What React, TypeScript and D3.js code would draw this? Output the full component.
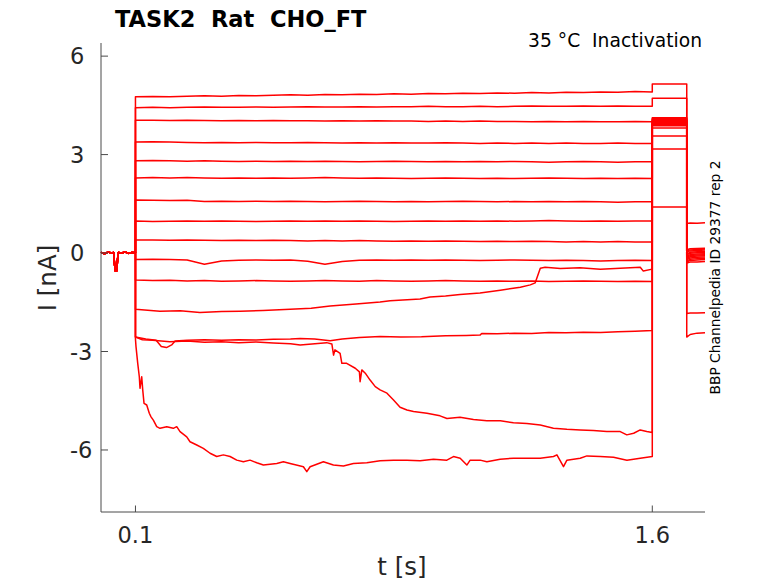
import React from "react";
import * as d3 from "d3";

// ---- data ----
const holdT = [0, 0.01, 0.02, 0.03, 0.037, 0.039, 0.041, 0.046, 0.048, 0.05, 0.06, 0.07, 0.08, 0.09, 0.1];
const holdV = [0.02, -0.02, 0.03, 0.0, 0.02, -0.3, -0.54, -0.54, -0.2, 0.02, 0.0, 0.03, -0.01, 0.02, 0.01];

const gridT = [0.1, 0.15, 0.2, 0.25, 0.3, 0.35, 0.4, 0.45, 0.5, 0.55, 0.6, 0.65, 0.7, 0.75, 0.8, 0.85, 0.9, 0.95, 1.0, 1.05, 1.1, 1.15, 1.2, 1.25, 1.3, 1.35, 1.4, 1.45, 1.5, 1.55, 1.6];

const trace1 = [4.76, 4.77, 4.76, 4.78, 4.79, 4.78, 4.80, 4.79, 4.81, 4.82, 4.81, 4.83, 4.82, 4.84, 4.83, 4.85, 4.84, 4.86, 4.85, 4.87, 4.86, 4.88, 4.87, 4.89, 4.88, 4.90, 4.89, 4.91, 4.90, 4.92, 4.91];
const trace2 = [4.43, 4.44, 4.43, 4.44, 4.45, 4.44, 4.44, 4.45, 4.44, 4.45, 4.46, 4.45, 4.45, 4.46, 4.45, 4.46, 4.46, 4.47, 4.46, 4.46, 4.47, 4.46, 4.47, 4.48, 4.47, 4.47, 4.48, 4.47, 4.48, 4.47, 4.47];
const trace3 = [4.05, 4.05, 4.04, 4.05, 4.04, 4.03, 4.04, 4.03, 4.04, 4.03, 4.03, 4.02, 4.03, 4.02, 4.03, 4.02, 4.02, 4.01, 4.02, 4.01, 4.02, 4.01, 4.01, 4.00, 4.01, 4.00, 4.01, 4.00, 4.00, 4.01, 4.00];
const trace4 = [3.38, 3.39, 3.38, 3.37, 3.36, 3.37, 3.36, 3.37, 3.36, 3.36, 3.37, 3.36, 3.35, 3.36, 3.35, 3.36, 3.35, 3.35, 3.36, 3.35, 3.34, 3.35, 3.34, 3.35, 3.34, 3.35, 3.34, 3.34, 3.35, 3.34, 3.34];
const trace5 = [2.81, 2.82, 2.81, 2.80, 2.81, 2.80, 2.79, 2.80, 2.79, 2.80, 2.79, 2.80, 2.79, 2.78, 2.79, 2.80, 2.79, 2.78, 2.79, 2.78, 2.79, 2.78, 2.79, 2.78, 2.77, 2.78, 2.79, 2.78, 2.77, 2.78, 2.78];
const trace6 = [2.29, 2.30, 2.29, 2.30, 2.29, 2.28, 2.29, 2.28, 2.29, 2.28, 2.29, 2.30, 2.29, 2.28, 2.29, 2.28, 2.27, 2.28, 2.29, 2.28, 2.27, 2.28, 2.27, 2.28, 2.29, 2.28, 2.27, 2.28, 2.27, 2.28, 2.27];
const trace7 = [1.62, 1.61, 1.60, 1.61, 1.57, 1.58, 1.57, 1.58, 1.57, 1.58, 1.57, 1.56, 1.57, 1.58, 1.57, 1.56, 1.57, 1.56, 1.57, 1.58, 1.57, 1.56, 1.57, 1.56, 1.57, 1.56, 1.57, 1.56, 1.55, 1.56, 1.56];
const trace8 = [0.98, 0.96, 0.97, 0.98, 0.97, 0.98, 0.97, 0.96, 0.97, 0.98, 0.97, 0.98, 0.97, 0.98, 0.97, 0.96, 0.97, 0.98, 0.97, 0.98, 0.97, 0.98, 0.97, 0.98, 0.99, 0.98, 0.97, 0.98, 0.97, 0.98, 0.98];
const trace9 = [0.40, 0.40, 0.39, 0.40, 0.39, 0.38, 0.39, 0.38, 0.39, 0.38, 0.37, 0.38, 0.37, 0.38, 0.37, 0.36, 0.37, 0.36, 0.37, 0.36, 0.35, 0.36, 0.35, 0.36, 0.35, 0.34, 0.35, 0.34, 0.35, 0.34, 0.34];
const trace10 = [-0.20, -0.19, -0.20, -0.21, -0.34, -0.24, -0.22, -0.21, -0.22, -0.21, -0.25, -0.34, -0.26, -0.22, -0.21, -0.22, -0.21, -0.22, -0.21, -0.22, -0.23, -0.22, -0.21, -0.22, -0.23, -0.22, -0.23, -0.24, -0.23, -0.22, -0.23];
const trace11 = [-0.82, -0.84, -0.83, -0.85, -0.84, -0.86, -0.85, -0.84, -0.85, -0.86, -0.85, -0.84, -0.85, -0.86, -0.84, -0.85, -0.86, -0.85, -0.84, -0.85, -0.86, -0.85, -0.86, -0.85, -0.87, -0.86, -0.85, -0.86, -0.87, -0.86, -0.87];

const trace12T = [0.1, 0.171, 0.23, 0.287, 0.35, 0.404, 0.47, 0.549, 0.61, 0.665, 0.74, 0.810, 0.839, 0.926, 0.955, 1.0, 1.042, 1.100, 1.159, 1.217, 1.246, 1.260, 1.275, 1.289, 1.333, 1.390, 1.449, 1.507, 1.565, 1.574, 1.600];
const trace12V = [-1.71, -1.77, -1.76, -1.81, -1.78, -1.77, -1.75, -1.71, -1.68, -1.61, -1.55, -1.49, -1.45, -1.40, -1.34, -1.31, -1.26, -1.22, -1.13, -1.04, -0.97, -0.91, -0.46, -0.43, -0.47, -0.45, -0.49, -0.46, -0.43, -0.55, -0.49];

const trace13T = [0.1, 0.13, 0.16, 0.175, 0.19, 0.205, 0.215, 0.25, 0.3, 0.35, 0.4, 0.45, 0.5, 0.55, 0.578, 0.62, 0.665, 0.70, 0.75, 0.81, 0.87, 0.93, 1.0, 1.06, 1.10, 1.105, 1.15, 1.2, 1.25, 1.3, 1.35, 1.4, 1.45, 1.5, 1.55, 1.6];
const trace13V = [-2.56, -2.62, -2.66, -2.85, -2.88, -2.80, -2.68, -2.66, -2.64, -2.66, -2.64, -2.65, -2.63, -2.62, -2.60, -2.62, -2.67, -2.62, -2.57, -2.54, -2.56, -2.55, -2.52, -2.51, -2.50, -2.45, -2.46, -2.44, -2.45, -2.42, -2.43, -2.41, -2.42, -2.40, -2.38, -2.36];

const trace14T = [0.1, 0.12, 0.15, 0.2, 0.25, 0.3, 0.35, 0.4, 0.45, 0.5, 0.55, 0.578, 0.655, 0.670, 0.675, 0.679, 0.694, 0.699, 0.713, 0.738, 0.750, 0.752, 0.757, 0.767, 0.781, 0.796, 0.810, 0.830, 0.849, 0.868, 0.888, 0.907, 0.946, 0.984, 1.004, 1.042, 1.081, 1.120, 1.159, 1.197, 1.236, 1.275, 1.313, 1.352, 1.391, 1.429, 1.468, 1.507, 1.526, 1.546, 1.565, 1.584, 1.600];
const trace14V = [-2.56, -2.64, -2.66, -2.70, -2.68, -2.72, -2.70, -2.73, -2.71, -2.74, -2.76, -2.80, -2.73, -2.77, -3.11, -2.95, -3.06, -3.36, -3.36, -3.51, -3.62, -3.92, -3.56, -3.66, -3.87, -4.07, -4.17, -4.27, -4.48, -4.70, -4.78, -4.83, -4.88, -4.96, -5.04, -5.00, -5.07, -5.11, -5.11, -5.17, -5.19, -5.24, -5.34, -5.37, -5.39, -5.41, -5.44, -5.44, -5.54, -5.49, -5.39, -5.44, -5.47];

const trace15T = [0.1, 0.1016, 0.1066, 0.1112, 0.1132, 0.1182, 0.1211, 0.1249, 0.1327, 0.1402, 0.1452, 0.1519, 0.1617, 0.1713, 0.1908, 0.2099, 0.2198, 0.2294, 0.2488, 0.2584, 0.2779, 0.2970, 0.3165, 0.3359, 0.3551, 0.3746, 0.3940, 0.4132, 0.4326, 0.4521, 0.4713, 0.5102, 0.5293, 0.5488, 0.5874, 0.5973, 0.6069, 0.6455, 0.6745, 0.7036, 0.7326, 0.7715, 0.8101, 0.8487, 0.8876, 0.9263, 0.9649, 1.0038, 1.0229, 1.0424, 1.0618, 1.0714, 1.1005, 1.1199, 1.1585, 1.1972, 1.2361, 1.2747, 1.3133, 1.3232, 1.3423, 1.3522, 1.3908, 1.4103, 1.4489, 1.4875, 1.5264, 1.5650, 1.6];
const trace15V = [-2.62, -2.85, -3.36, -3.77, -4.12, -3.77, -4.17, -4.58, -4.63, -4.88, -4.99, -5.09, -5.29, -5.34, -5.29, -5.34, -5.29, -5.44, -5.60, -5.75, -5.85, -5.95, -6.10, -6.20, -6.15, -6.20, -6.31, -6.36, -6.31, -6.39, -6.46, -6.41, -6.36, -6.41, -6.51, -6.66, -6.51, -6.36, -6.46, -6.49, -6.41, -6.39, -6.33, -6.31, -6.31, -6.33, -6.28, -6.31, -6.20, -6.25, -6.46, -6.31, -6.31, -6.36, -6.28, -6.25, -6.25, -6.25, -6.20, -6.15, -6.51, -6.31, -6.25, -6.18, -6.20, -6.22, -6.31, -6.25, -6.20];

// test pulse (1.6 - 1.7 s) and tail (1.7 s - end) levels, one per trace
const testT = [1.6, 1.7];
const testLevels = [5.15, 4.72, 4.12, 4.09, 4.06, 4.03, 4.00, 3.97, 3.94, 3.91, 3.88, 3.81, 3.57, 3.17, 1.40];
const tailT = [1.7, 1.71, 1.73, 1.753];
const tailStart = [0.90, 0.10, 0.06, 0.03, -0.02, -0.05, -0.09, -0.12, -0.16, -0.20, -0.24, -0.27, -0.30, -1.84, -2.56];
const tailEnd = [0.92, 0.15, 0.12, 0.09, 0.05, 0.02, -0.02, -0.05, -0.08, -0.12, -0.16, -0.20, -0.26, -1.82, -2.43];

const yTicks = [-6, -3, 0, 3, 6];
const xTicks = [0.1, 1.6];

const stepTraces: [number[], number[]][] = [
  [gridT, trace1], [gridT, trace2], [gridT, trace3], [gridT, trace4], [gridT, trace5],
  [gridT, trace6], [gridT, trace7], [gridT, trace8], [gridT, trace9], [gridT, trace10],
  [gridT, trace11], [trace12T, trace12V], [trace13T, trace13V], [trace14T, trace14V], [trace15T, trace15V],
];

const W = 778, H = 583;

export default function App() {
  const x = d3.scaleLinear().domain([0, 1.753]).range([101, 705]);
  const y = d3.scaleLinear().domain([-7.89, 6.4]).range([512, 43]);
  const line = d3.line<[number, number]>().x(d => x(d[0])).y(d => y(d[1]));

  const paths = stepTraces.map(([ts, vs], i) => {
    const pts: [number, number][] = [];
    holdT.forEach((t, k) => pts.push([t, holdV[k]]));
    ts.forEach((t, k) => pts.push([t, vs[k]]));
    testT.forEach(t => pts.push([t, testLevels[i]]));
    const mid1 = tailStart[i] + (tailEnd[i] - tailStart[i]) * 0.6;
    const tailV = [tailStart[i], mid1, tailEnd[i] - 0.01, tailEnd[i]];
    tailT.forEach((t, k) => pts.push([t, tailV[k]]));
    return line(pts) || "";
  });

  const axisColor = "#4a4a4a";
  const textColor = "#262626";
  const font = "DejaVu Sans, sans-serif";

  return (
    <div>
      <style>{`body{margin:0;}`}</style>
      <svg width={W} height={H} style={{ display: "block", background: "#fff" }} fontFamily={font}>
        {paths.map((d, i) => (
          <path key={i} d={d} fill="none" stroke="#ff0000" strokeWidth={1.5} strokeLinejoin="round" />
        ))}
        {/* axes */}
        <line x1={x(0)} x2={x(0)} y1={y.range()[1]} y2={y.range()[0]} stroke={axisColor} strokeWidth={1} />
        <line x1={x(0)} x2={x.range()[1]} y1={y.range()[0]} y2={y.range()[0]} stroke={axisColor} strokeWidth={1} />
        {yTicks.map(v => (
          <g key={v}>
            <line x1={x(0)} x2={x(0) + 7} y1={y(v)} y2={y(v)} stroke={axisColor} strokeWidth={1} />
            <text x={70} y={y(v) + 8.2} fontSize={22.5} fill={textColor}>{String(v)}</text>
          </g>
        ))}
        {xTicks.map(t => (
          <g key={t}>
            <line x1={x(t)} x2={x(t)} y1={y.range()[0]} y2={y.range()[0] - 6.5} stroke={axisColor} strokeWidth={1} />
            <text x={x(t)} y={542.7} fontSize={22.5} fill={textColor} textAnchor="middle">{t.toFixed(1)}</text>
          </g>
        ))}
        <text x={402} y={575} fontSize={24.5} fill={textColor} textAnchor="middle" style={{ whiteSpace: "pre" }}>t [s]</text>
        <text transform="translate(56,278) rotate(-90)" fontSize={24.5} fill={textColor} textAnchor="middle" style={{ whiteSpace: "pre" }}>I [nA]</text>
        <text x={115} y={26.5} fontSize={22.5} fontWeight="bold" fill="#000" style={{ whiteSpace: "pre" }}>TASK2  Rat  CHO_FT</text>
        <text x={702} y={47} fontSize={18.7} fill="#000" textAnchor="end" style={{ whiteSpace: "pre" }}>35 °C  Inactivation</text>
        <text transform="translate(720,277.5) rotate(-90)" fontSize={13.8} fill="#000" textAnchor="middle">BBP Channelpedia ID 29377 rep 2</text>
      </svg>
    </div>
  );
}
